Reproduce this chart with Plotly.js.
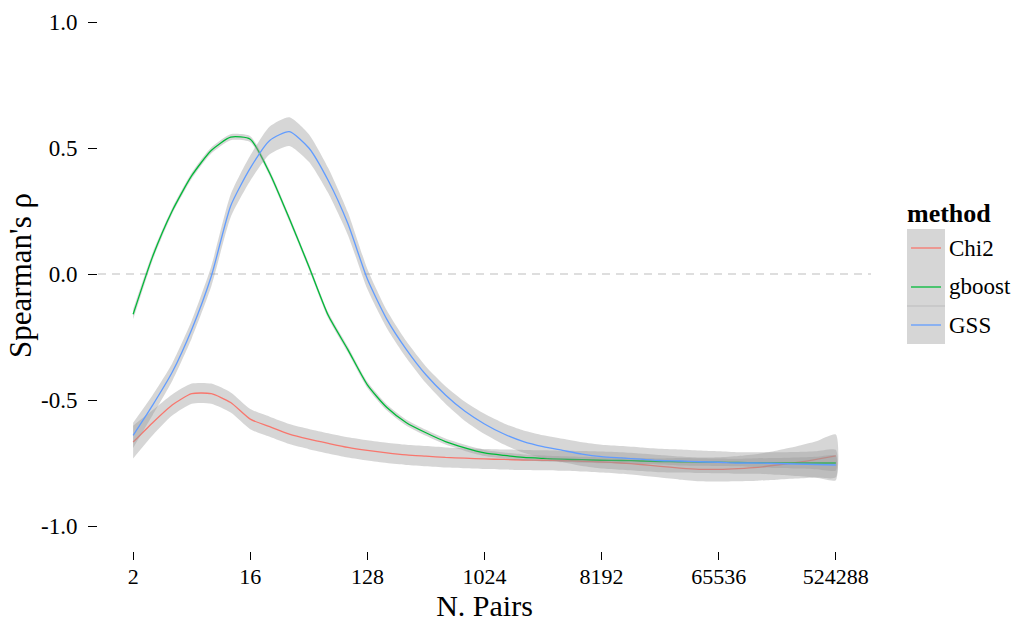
<!DOCTYPE html>
<html>
<head>
<meta charset="utf-8">
<script src="https://cdn.plot.ly/plotly-3.0.1.min.js"></script>
<style>html,body{margin:0;padding:0;background:#fff;}#chart{width:1022px;height:622px;}</style>
</head>
<body>
<div id="chart"></div>
<script>
// N. Pairs (x positions, powers of two)
const nPairs = [2, 2.83, 4, 5.66, 8, 11.3, 16, 22.6, 32, 45.3, 64, 90.5, 128, 181, 256, 362, 512, 724,
  1024, 1448, 2048, 2896, 4096, 5793, 8192, 11585, 16384, 23170, 32768, 46341, 65536, 92682,
  131072, 185364, 262144, 370728, 524288];

const methods = ["Chi2", "gboost", "GSS"];
const colors = ["#F8766D", "#00BA38", "#619CFF"];

const chi2 = [-0.667, -0.59, -0.52, -0.475, -0.475, -0.51, -0.576, -0.606, -0.635, -0.655, -0.672,
  -0.688, -0.70, -0.71, -0.718, -0.723, -0.728, -0.731, -0.734, -0.736, -0.738, -0.739, -0.741,
  -0.743, -0.746, -0.75, -0.756, -0.763, -0.77, -0.775, -0.775, -0.772, -0.767, -0.758, -0.748,
  -0.736, -0.722];
const chi2Se = [0.065, 0.05, 0.042, 0.04, 0.04, 0.04, 0.04, 0.04, 0.04, 0.04, 0.04, 0.04, 0.04,
  0.04, 0.04, 0.04, 0.04, 0.04, 0.04, 0.04, 0.04, 0.04, 0.04, 0.041, 0.042, 0.043, 0.044, 0.045,
  0.046, 0.047, 0.048, 0.05, 0.053, 0.058, 0.064, 0.072, 0.085];

const gboost = [-0.16, 0.07, 0.25, 0.39, 0.49, 0.543, 0.535, 0.40, 0.22, 0.03, -0.165, -0.30,
  -0.44, -0.53, -0.59, -0.63, -0.665, -0.69, -0.71, -0.72, -0.728, -0.732, -0.735, -0.737,
  -0.739, -0.74, -0.742, -0.744, -0.745, -0.746, -0.747, -0.748, -0.749, -0.75, -0.75, -0.75, -0.75];
const gboostSe = [0.02, 0.015, 0.012, 0.012, 0.012, 0.012, 0.012, 0.012, 0.012, 0.012, 0.012,
  0.012, 0.012, 0.012, 0.012, 0.012, 0.012, 0.012, 0.012, 0.012, 0.012, 0.012, 0.012, 0.012,
  0.012, 0.012, 0.012, 0.012, 0.015, 0.015, 0.015, 0.015, 0.018, 0.02, 0.022, 0.025, 0.03];

const gss = [-0.64, -0.52, -0.39, -0.22, -0.01, 0.27, 0.42, 0.53, 0.565, 0.50, 0.37, 0.20, -0.02,
  -0.18, -0.30, -0.40, -0.48, -0.545, -0.595, -0.635, -0.665, -0.685, -0.70, -0.715, -0.725,
  -0.73, -0.735, -0.74, -0.742, -0.745, -0.747, -0.75, -0.75, -0.752, -0.754, -0.756, -0.758];
const gssSe = [0.05, 0.04, 0.035, 0.035, 0.04, 0.045, 0.05, 0.055, 0.057, 0.055, 0.05, 0.045,
  0.04, 0.035, 0.033, 0.033, 0.035, 0.038, 0.04, 0.042, 0.044, 0.045, 0.046, 0.047, 0.047,
  0.047, 0.047, 0.047, 0.046, 0.045, 0.044, 0.043, 0.043, 0.045, 0.048, 0.053, 0.06];

const xTickVals = [2, 16, 128, 1024, 8192, 65536, 524288];
const xTickText = ["2", "16", "128", "1024", "8192", "65536", "524288"];
const yTickVals = [-1, -0.5, 0, 0.5, 1];
const yTickText = ["-1.0", "-0.5", "0.0", "0.5", "1.0"];

const FONT = "'Liberation Serif', 'DejaVu Serif', serif";
const series = [[chi2, chi2Se], [gboost, gboostSe], [gss, gssSe]];

const traces = [];
series.forEach(([vals, se], i) => {
  const upper = vals.map((v, j) => v + se[j]);
  const lower = vals.map((v, j) => v - se[j]);
  traces.push({
    type: "scatter", mode: "lines",
    x: nPairs.concat(nPairs.slice().reverse()),
    y: upper.concat(lower.slice().reverse()),
    fill: "toself", fillcolor: "rgba(153,153,153,0.4)",
    line: {width: 0, shape: "spline", smoothing: 0.6},
    hoverinfo: "skip", showlegend: false
  });
  traces.push({
    type: "scatter", mode: "lines", name: methods[i],
    x: nPairs, y: vals,
    line: {color: colors[i], width: 1.3, shape: "spline", smoothing: 0.6},
    showlegend: false
  });
});

// plot area geometry in px
const L = 98, R = 871, T = 0, B = 551;
const px = p => (p - L) / (R - L);
const py = p => (B - p) / (B - T);

const shapes = [
  {type: "line", xref: "paper", yref: "y", x0: 0, x1: 1, y0: 0, y1: 0,
   line: {color: "#bdbdbd", width: 1.2, dash: "8px,6px"}, layer: "below"},
  {type: "rect", xref: "paper", yref: "paper", x0: px(907), x1: px(945), y0: py(344), y1: py(229),
   fillcolor: "#d6d6d6", line: {width: 0}},
  {type: "line", xref: "paper", yref: "paper", x0: px(907), x1: px(945), y0: py(306), y1: py(306),
   line: {color: "#bcbcbd", width: 1}}
];
const keyY = [248, 287, 325];
const annotations = [
  {xref: "paper", yref: "paper", x: px(905), y: py(213), xanchor: "left", yanchor: "middle",
   text: "<b>method</b>", showarrow: false, font: {family: FONT, size: 26, color: "#000"}}
];
methods.forEach((m, i) => {
  shapes.push({type: "line", xref: "paper", yref: "paper", x0: px(911), x1: px(941),
    y0: py(keyY[i]), y1: py(keyY[i]), line: {color: colors[i], width: 1.3}});
  annotations.push({xref: "paper", yref: "paper", x: px(947), y: py(keyY[i]), xanchor: "left",
    yanchor: "middle", text: m, showarrow: false, font: {family: FONT, size: 23, color: "#000"}});
});

const layout = {
  width: 1022, height: 622,
  margin: {l: L, r: 1022 - R, t: T, b: 622 - B},
  paper_bgcolor: "#fff", plot_bgcolor: "#fff",
  font: {family: FONT, size: 23, color: "#000"},
  showlegend: false,
  xaxis: {
    type: "log",
    range: [0.1 * Math.log10(2), 19.9 * Math.log10(2)],
    tickvals: xTickVals, ticktext: xTickText,
    ticks: "outside", ticklen: 8, tickwidth: 1, tickcolor: "#000",
    showgrid: false, zeroline: false, showline: false,
    ticklabelstandoff: -2,
    tickfont: {family: FONT, size: 22, color: "#000"},
    title: {text: "N. Pairs", font: {family: FONT, size: 30, color: "#000"}, standoff: 3}
  },
  yaxis: {
    range: [-1 - 25 / 252, 1 + 22 / 252],
    tickvals: yTickVals, ticktext: yTickText,
    ticks: "outside", ticklen: 9, tickwidth: 1, tickcolor: "#000",
    showgrid: false, zeroline: false, showline: false,
    ticklabelstandoff: 6,
    tickfont: {family: FONT, size: 23, color: "#000"},
    title: {text: "Spearman's ρ", font: {family: FONT, size: 31, color: "#000"}, standoff: 0}
  },
  shapes: shapes,
  annotations: annotations
};

Plotly.newPlot("chart", traces, layout, {displayModeBar: false, responsive: false});
</script>
</body>
</html>
